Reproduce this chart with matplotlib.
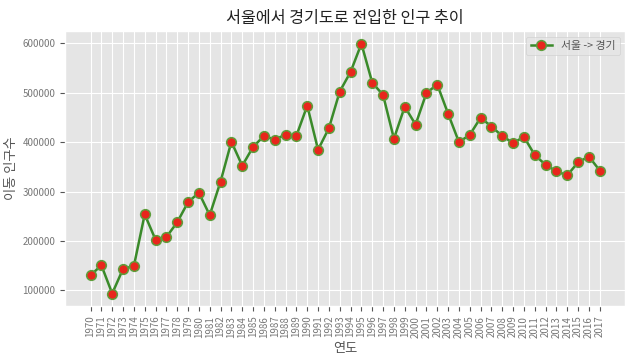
import matplotlib
matplotlib.use("Agg")
import matplotlib.pyplot as plt

plt.style.use('ggplot')
plt.rcParams['font.family'] = ['Noto Sans CJK KR', 'DejaVu Sans']
plt.rcParams['axes.unicode_minus'] = False

years = [str(y) for y in range(1970, 2018)]
moves = [130149, 150583, 93333, 143234, 149045, 253705, 202276, 207722,
         237684, 278411, 297539, 252073, 320174, 400875, 352238, 390265,
         412535, 405220, 415174, 412933, 473889, 384714, 428344, 502584,
         542204, 599411, 520566, 495454, 407050, 471841, 435573, 499575,
         516765, 457656, 400206, 414621, 449632, 431637, 412408, 398282,
         410735, 373771, 354135, 340801, 332785, 359337, 370760, 342433]

fig = plt.figure(figsize=(6.38, 3.63), dpi=100)
ax = fig.add_axes([0.102, 0.157, 0.878, 0.757])

ax.plot(years, moves, marker='o', markersize=7, markerfacecolor='#e8261c',
        markeredgecolor='#5e9e3c', markeredgewidth=1.1,
        color='#3a8a2a', linewidth=1.8, label='서울 -> 경기')

ax.set_title('서울에서 경기도로 전입한 인구 추이', fontsize=11.7, color='#222222')
ax.set_xlabel('연도', fontsize=9.5, color='#555555', labelpad=3)
ax.set_ylabel('이동 인구수', fontsize=9.5, color='#555555', labelpad=3)
ax.tick_params(axis='x', labelsize=7, rotation=90, labelcolor='#777777')
ax.tick_params(axis='y', labelsize=7, labelcolor='#777777')
leg = ax.legend(loc='upper right', fontsize=7.8)
for t in leg.get_texts():
    t.set_color('#555555')

fig.savefig('out.png', dpi=100)
